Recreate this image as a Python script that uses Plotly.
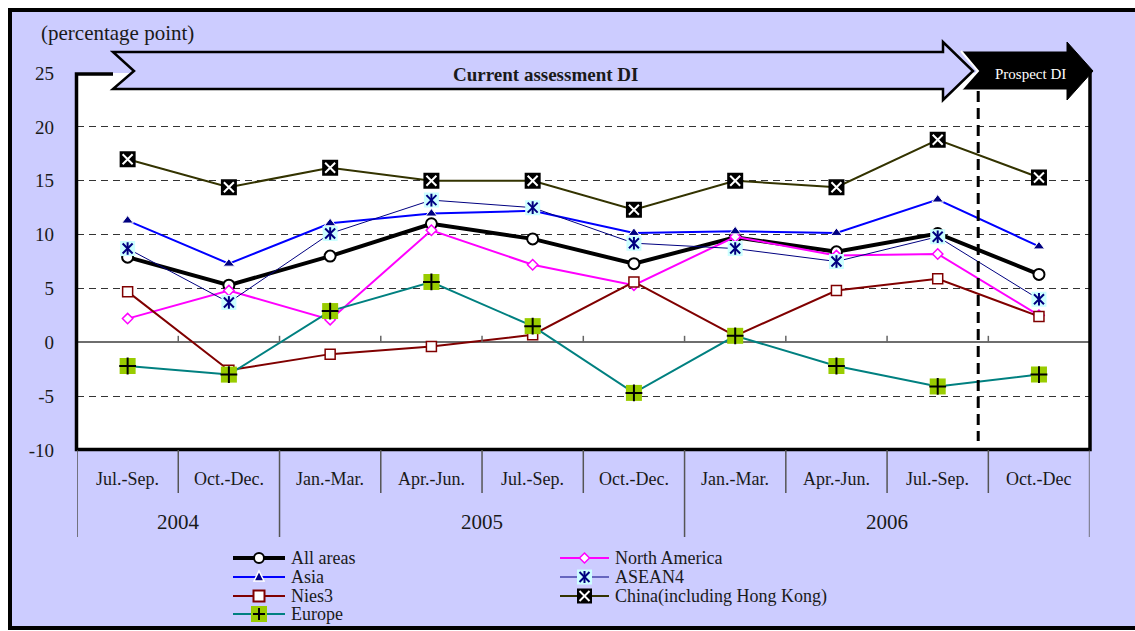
import plotly.graph_objects as go

W, H = 1135, 631

# ---- data -------------------------------------------------------------
quarters = ["Jul.-Sep.", "Oct.-Dec.", "Jan.-Mar.", "Apr.-Jun.", "Jul.-Sep.",
            "Oct.-Dec.", "Jan.-Mar.", "Apr.-Jun.", "Jul.-Sep.", "Oct.-Dec"]
years = ["2004", "2004", "2005", "2005", "2005", "2005",
         "2006", "2006", "2006", "2006"]

all_areas = [7.9, 5.3, 8.0, 11.0, 9.6, 7.3, 9.75, 8.4, 10.1, 6.3]
north_america = [2.2, 4.8, 2.1, 10.4, 7.2, 5.3, 9.8, 8.05, 8.2, 2.5]
asia = [11.3, 7.3, 11.05, 11.95, 12.2, 10.15, 10.3, 10.15, 13.25, 8.9]
asean4 = [8.7, 3.7, 10.1, 13.2, 12.5, 9.2, 8.7, 7.5, 9.8, 4.0]
nies3 = [4.7, -2.6, -1.1, -0.4, 0.7, 5.6, 0.6, 4.8, 5.9, 2.4]
china = [17.0, 14.4, 16.2, 15.0, 15.0, 12.3, 15.0, 14.4, 18.8, 15.3]
europe = [-2.2, -3.0, 2.9, 5.6, 1.5, -4.7, 0.6, -2.2, -4.1, -3.0]

y_ticks = [25, 20, 15, 10, 5, 0, -5, -10]
y_tick_labels = ["25", "20", "15", "10", "5", "0", "-5", "-10"]
prospect_start = 8.4  # boundary between current assessment and prospect

# ---- styling ----------------------------------------------------------
SERIF = "Liberation Serif, Times New Roman, serif"
LAVENDER = "#ccccff"
TEXT = "#1a1a1a"


def px(x):
    return x / W


def py(y):
    return 1 - y / H


def path_px(points, close=True):
    d = "M " + " L ".join(f"{px(x):.5f},{py(y):.5f}" for x, y in points)
    return d + (" Z" if close else "")


xs = list(range(len(quarters)))
fig = go.Figure()


def line_trace(vals, color, width, symbol=None, size=None, mcolor=None,
               mline=None, mlw=0, name=""):
    return go.Scatter(
        x=xs, y=vals, mode="lines+markers" if symbol else "lines",
        line=dict(color=color, width=width),
        marker=dict(symbol=symbol, size=size, color=mcolor,
                    line=dict(color=mline, width=mlw)) if symbol else None,
        name=name, hoverinfo="skip")


def marker_trace(vals, symbol, size, color, lw=0, lcolor=None):
    return go.Scatter(
        x=xs, y=vals, mode="markers",
        marker=dict(symbol=symbol, size=size, color=color,
                    line=dict(color=lcolor if lcolor else color, width=lw)),
        hoverinfo="skip", showlegend=False)


# All areas
fig.add_trace(line_trace(all_areas, "black", 4, "circle", 11, "white", "black", 2,
                         "All areas"))
# North America
fig.add_trace(line_trace(north_america, "#ff00ff", 2, "diamond", 8, "white",
                         "#ff00ff", 1.5, "North America"))
# Asia
fig.add_trace(line_trace(asia, "#0000ff", 2, "triangle-up", 10, "#000080",
                         "white", 1, "Asia"))
# ASEAN4: thin line, pale cyan tile, six-armed star
fig.add_trace(line_trace(asean4, "#000080", 1, name="ASEAN4"))
fig.add_trace(marker_trace(asean4, "square", 15, "#ccffff"))
fig.add_trace(marker_trace(asean4, "x-thin-open", 10, "#000080", 2))
fig.add_trace(marker_trace(asean4, "line-ns-open", 9, "#000080", 2))
# Nies3
fig.add_trace(line_trace(nies3, "#800000", 2, "square", 10, "white", "#800000", 1.5,
                         "Nies3"))
# China (including Hong Kong)
fig.add_trace(line_trace(china, "#333300", 2, "square", 16, "black", "black", 0,
                         "China(including Hong Kong)"))
fig.add_trace(marker_trace(china, "x-thin-open", 10, "white", 2))
# Europe
fig.add_trace(line_trace(europe, "#008080", 2, "square", 16, "#99cc00", "#99cc00", 0,
                         "Europe"))
fig.add_trace(marker_trace(europe, "cross-thin-open", 12, "black", 2))

# ---- shapes -----------------------------------------------------------
shapes = []

# outer lavender panel with heavy black frame
shapes.append(dict(type="rect", xref="paper", yref="paper", layer="below",
                   x0=px(10), y0=py(10), x1=px(1150), y1=py(628),
                   fillcolor=LAVENDER, line=dict(color="black", width=4)))
# white plotting area
shapes.append(dict(type="rect", xref="paper", yref="paper", layer="below",
                   x0=px(77), y0=py(73), x1=px(1090), y1=py(449),
                   fillcolor="white", line=dict(width=0)))

# plot frame: left, bottom, right
shapes.append(dict(type="path", xref="paper", yref="paper", layer="above",
                   path=path_px([(113, 74), (76.5, 74), (76.5, 449.5),
                                 (1090, 449.5), (1090, 72)], close=False),
                   line=dict(color="black", width=3.5)))

# current assessment arrow
shapes.append(dict(type="path", xref="paper", yref="paper", layer="above",
                   path=path_px([(113, 52), (943, 52), (943, 42), (973, 71),
                                 (943, 100), (943, 89), (113, 89), (134, 71)]),
                   fillcolor=LAVENDER, line=dict(color="black", width=2.5)))
# prospect arrow
shapes.append(dict(type="path", xref="paper", yref="paper", layer="above",
                   path=path_px([(962, 52), (1067, 52), (1067, 42), (1093, 71),
                                 (1067, 100), (1067, 89), (962, 89), (978, 71)]),
                   fillcolor="black", line=dict(color="black", width=1)))
shapes.append(dict(type="path", xref="paper", yref="paper", layer="above",
                   path=path_px([(961, 51), (978, 71), (961, 90)], close=False),
                   line=dict(color="white", width=2)))

# dashed divider between current and prospect periods
shapes.append(dict(type="line", xref="x", yref="paper", layer="above",
                   x0=prospect_start, x1=prospect_start, y0=py(91), y1=py(441),
                   line=dict(color="black", width=3, dash="11px,6px")))

# small ticks on the zero line at category boundaries
for k in range(len(quarters) - 1):
    shapes.append(dict(type="line", xref="x", yref="y", layer="above",
                       x0=k + 0.5, x1=k + 0.5, y0=0, y1=0.6,
                       line=dict(color="#666666", width=1.5)))

# category table lines under the axis
for k in range(len(quarters) + 1):
    b = k - 0.5
    year_edge = (k == 0 or k == len(quarters) or years[k] != years[k - 1])
    shapes.append(dict(type="line", xref="x", yref="paper", layer="above",
                       x0=b, x1=b, y0=py(450), y1=py(537 if year_edge else 493),
                       line=dict(color="#555555", width=1.5)))

# ---- legend (drawn) ---------------------------------------------------
def seg(x0, y0, x1, y1, color, width):
    return dict(type="line", xref="paper", yref="paper", layer="above",
                x0=px(x0), y0=py(y0), x1=px(x1), y1=py(y1),
                line=dict(color=color, width=width))


def box(cx, cy, h, fill, lcolor=None, lw=0):
    return dict(type="rect", xref="paper", yref="paper", layer="above",
                x0=px(cx - h), y0=py(cy - h), x1=px(cx + h), y1=py(cy + h),
                fillcolor=fill, line=dict(color=lcolor or fill, width=lw))


def glyph(kind, x0, x1, cy):
    cx = (x0 + x1) / 2
    out = []
    if kind == "circle":
        out.append(seg(x0, cy, x1, cy, "black", 4))
        out.append(dict(type="circle", xref="paper", yref="paper", layer="above",
                        x0=px(cx - 5), y0=py(cy - 5), x1=px(cx + 5), y1=py(cy + 5),
                        fillcolor="white", line=dict(color="black", width=2)))
    elif kind == "diamond":
        out.append(seg(x0, cy, x1, cy, "#ff00ff", 2))
        out.append(dict(type="path", xref="paper", yref="paper", layer="above",
                        path=path_px([(cx, cy - 5), (cx + 5, cy), (cx, cy + 5),
                                      (cx - 5, cy)]),
                        fillcolor="white", line=dict(color="#ff00ff", width=1.5)))
    elif kind == "triangle":
        out.append(seg(x0, cy, x1, cy, "#0000ff", 2))
        out.append(dict(type="path", xref="paper", yref="paper", layer="above",
                        path=path_px([(cx, cy - 6), (cx + 5, cy + 4),
                                      (cx - 5, cy + 4)]),
                        fillcolor="#000080", line=dict(color="white", width=1.5)))
    elif kind == "asterisk":
        out.append(seg(x0, cy, x1, cy, "#000080", 1))
        out.append(box(cx, cy, 7.5, "#ccffff"))
        out.append(seg(cx, cy - 6, cx, cy + 6, "#000080", 2))
        out.append(seg(cx - 5, cy - 5, cx + 5, cy + 5, "#000080", 2))
        out.append(seg(cx - 5, cy + 5, cx + 5, cy - 5, "#000080", 2))
    elif kind == "square":
        out.append(seg(x0, cy, x1, cy, "#800000", 2))
        out.append(box(cx, cy, 5.5, "white", "#800000", 2))
    elif kind == "xbox":
        out.append(seg(x0, cy, x1, cy, "#333300", 2))
        out.append(box(cx, cy, 7.5, "black"))
        out.append(seg(cx - 5, cy - 5, cx + 5, cy + 5, "white", 2))
        out.append(seg(cx - 5, cy + 5, cx + 5, cy - 5, "white", 2))
    elif kind == "plus":
        out.append(seg(x0, cy, x1, cy, "#008080", 2))
        out.append(box(cx, cy, 8, "#99cc00"))
        out.append(seg(cx - 6, cy, cx + 6, cy, "black", 2))
        out.append(seg(cx, cy - 6, cx, cy + 6, "black", 2))
    return out


legend_entries = [
    ("All areas", "circle", 0, 0),
    ("Asia", "triangle", 0, 1),
    ("Nies3", "square", 0, 2),
    ("Europe", "plus", 0, 3),
    ("North America", "diamond", 1, 0),
    ("ASEAN4", "asterisk", 1, 1),
    ("China(including Hong Kong)", "xbox", 1, 2),
]
legend_cols = [(233, 285, 290), (560, 609, 614)]
legend_rows = [558, 577, 596, 614]

annotations = []
for label, kind, col, row in legend_entries:
    lx0, lx1, tx = legend_cols[col]
    cy = legend_rows[row]
    shapes.extend(glyph(kind, lx0, lx1, cy))
    annotations.append(dict(text=label, xref="paper", yref="paper",
                            x=px(tx), y=py(cy), xanchor="left", yanchor="middle",
                            showarrow=False, borderpad=0,
                            font=dict(family=SERIF, size=18, color=TEXT)))

# ---- text -------------------------------------------------------------
annotations.append(dict(text="(percentage point)", xref="paper", yref="paper",
                        x=px(39), y=py(33), xanchor="left", yanchor="middle",
                        showarrow=False, font=dict(family=SERIF, size=21, color=TEXT)))
annotations.append(dict(text="<b>Current assessment DI</b>", xref="paper",
                        yref="paper", x=px(545), y=py(74), xanchor="center",
                        yanchor="middle", showarrow=False,
                        font=dict(family=SERIF, size=19, color=TEXT)))
annotations.append(dict(text="Prospect DI", xref="paper", yref="paper",
                        x=px(1030), y=py(74), xanchor="center", yanchor="middle",
                        showarrow=False, font=dict(family=SERIF, size=15,
                                                   color="white")))

for i, q in enumerate(quarters):
    annotations.append(dict(text=q, xref="x", yref="paper", x=i, y=py(479),
                            xanchor="center", yanchor="middle", showarrow=False,
                            font=dict(family=SERIF, size=18, color=TEXT)))

# year labels centred on their span of quarters
start = 0
for k in range(1, len(years) + 1):
    if k == len(years) or years[k] != years[start]:
        annotations.append(dict(text=years[start], xref="x", yref="paper",
                                x=(start + k - 1) / 2, y=py(522), xanchor="center",
                                yanchor="middle", showarrow=False,
                                font=dict(family=SERIF, size=21, color=TEXT)))
        start = k

fig.update_layout(
    width=W, height=H,
    margin=dict(l=0, r=0, t=0, b=0, autoexpand=False),
    paper_bgcolor="white",
    plot_bgcolor="rgba(0,0,0,0)",
    showlegend=False,
    xaxis=dict(domain=[px(77), px(1089.6)], range=[-0.5, len(quarters) - 0.5],
               showgrid=False, zeroline=False, showticklabels=False,
               showline=False, ticks="", automargin=False),
    yaxis=dict(domain=[py(450), py(73)], range=[-10, 25], tickvals=y_ticks,
               ticktext=y_tick_labels, automargin=False,
               showgrid=True, gridcolor="#333333", gridwidth=1,
               griddash="7px,5px", zeroline=True, zerolinecolor="#6e6e6e",
               zerolinewidth=1.5, showline=False, ticks="",
               ticklabelstandoff=22,
               tickfont=dict(family=SERIF, size=19, color=TEXT)),
    shapes=shapes,
    annotations=annotations,
)

fig.write_html("out.html")
